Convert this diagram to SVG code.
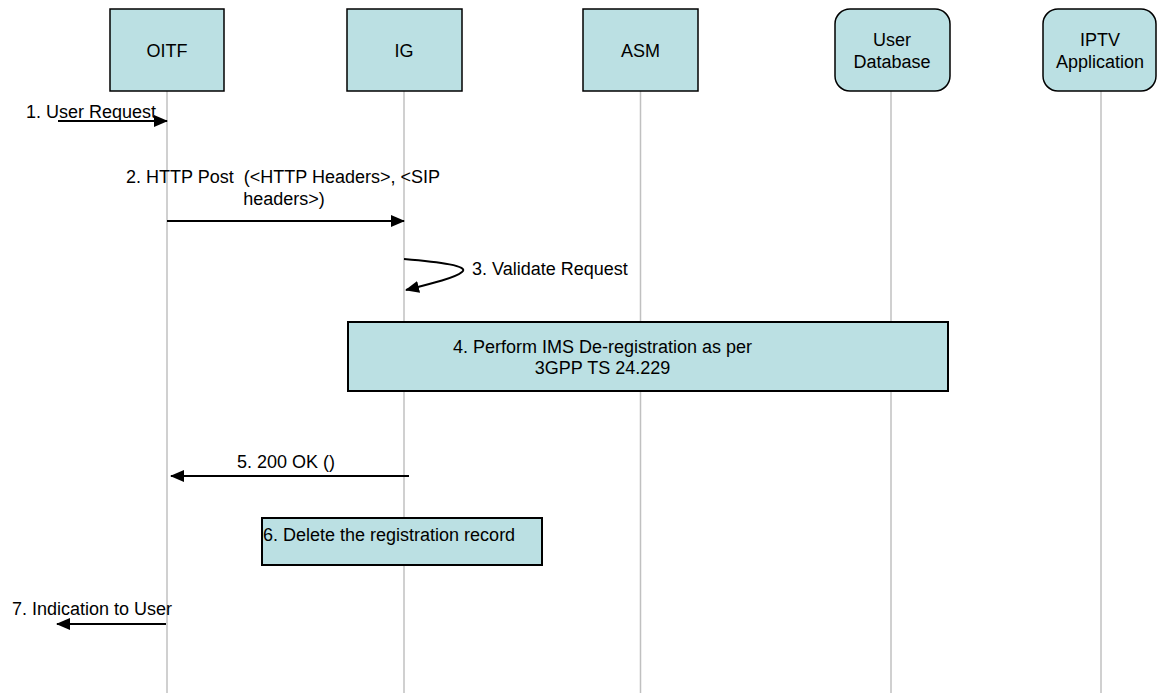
<svg xmlns="http://www.w3.org/2000/svg" width="1157" height="693" viewBox="0 0 1157 693">
<style>
.node{fill:#bbe0e3;stroke:#000;stroke-width:1.5}
.life{stroke:#c0c0c0;stroke-width:1.5;fill:none}
.msg{stroke:#000;stroke-width:2;fill:none;marker-end:url(#ah)}
text{font-family:"Liberation Sans",Arial,sans-serif;font-size:18px;fill:#000}
.c{text-anchor:middle}
</style>
<defs>
<marker id="ah" viewBox="0 0 14 12" refX="13" refY="6" markerWidth="14" markerHeight="12" markerUnits="userSpaceOnUse" orient="auto">
<path d="M0,0 L14,6 L0,12 Z" fill="#000"/>
</marker>
</defs>
<rect width="1157" height="693" fill="#fff"/>
<g id="lifelines">
<line class="life" x1="167" y1="91" x2="167" y2="693"/>
<line class="life" x1="404" y1="91" x2="404" y2="693"/>
<line class="life" x1="640.5" y1="91" x2="640.5" y2="693"/>
<line class="life" x1="891" y1="91" x2="891" y2="693"/>
<line class="life" x1="1101" y1="91" x2="1101" y2="693"/>
</g>
<g id="OITF"><rect class="node" x="110" y="9" width="114" height="82"/><text class="c" x="167" y="57">OITF</text></g>
<g id="IG"><rect class="node" x="347" y="9" width="115" height="82"/><text class="c" x="404" y="57">IG</text></g>
<g id="ASM"><rect class="node" x="583" y="9" width="115" height="82"/><text class="c" x="640.5" y="57">ASM</text></g>
<g id="UserDatabase"><rect class="node" x="835" y="9" width="115" height="82" rx="15" ry="15"/><text class="c" x="892" y="46">User</text><text class="c" x="892" y="68">Database</text></g>
<g id="IPTVApplication"><rect class="node" x="1043" y="9" width="113" height="82" rx="15" ry="15"/><text class="c" x="1100" y="46">IPTV</text><text class="c" x="1100" y="68">Application</text></g>
<g id="step4"><rect class="node" x="348" y="322" width="600" height="69" style="stroke-width:2"/><text class="c" x="602.5" y="353">4. Perform IMS De-registration as per</text><text class="c" x="602.5" y="374">3GPP TS 24.229</text></g>
<g id="step6"><rect class="node" x="262" y="518" width="280" height="47" style="stroke-width:2"/><text x="263" y="541">6. Delete the registration record</text></g>
<g id="connectors">
<line class="msg" x1="58" y1="121" x2="167" y2="121"/>
<line class="msg" x1="167" y1="221" x2="404" y2="221"/>
<path class="msg" d="M404,259 C440,262 470,266 462,272 C455,278 430,284 406,290"/>
<line class="msg" x1="409" y1="476" x2="171" y2="476"/>
<line class="msg" x1="166" y1="624" x2="57" y2="624"/>
</g>
<g id="labels">
<text x="26" y="118">1. User Request</text>
<text class="c" x="283" y="183" xml:space="preserve">2. HTTP Post  (&lt;HTTP Headers&gt;, &lt;SIP</text>
<text class="c" x="284" y="205">headers&gt;)</text>
<text x="472" y="275">3. Validate Request</text>
<text x="237" y="468">5. 200 OK ()</text>
<text x="12" y="615">7. Indication to User</text>
</g>
</svg>
